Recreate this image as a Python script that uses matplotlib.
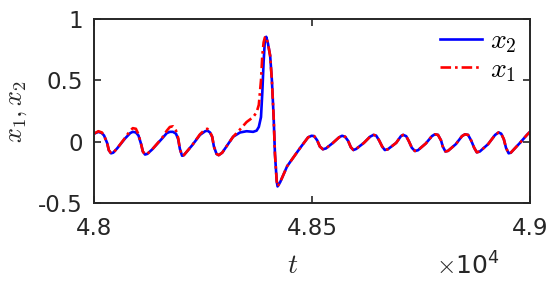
import matplotlib
matplotlib.use('Agg')
import matplotlib.pyplot as plt
from matplotlib.ticker import FuncFormatter

plt.rcParams['mathtext.fontset'] = 'cm'
plt.rcParams['axes.unicode_minus'] = False

# time samples
t = [48000, 48010, 48018, 48023, 48030, 48034, 48039, 48044, 48053, 48071,
     48083, 48089, 48096, 48102, 48108, 48112, 48117, 48122, 48133, 48156,
     48167, 48174, 48181, 48188, 48193, 48197, 48202, 48206, 48225, 48243,
     48255, 48260, 48266, 48271, 48275, 48281, 48286, 48294, 48319, 48335,
     48350, 48365, 48373, 48378, 48383, 48386, 48389, 48392, 48395, 48399,
     48404, 48408, 48412, 48415, 48419, 48421, 48427, 48443, 48473, 48491,
     48499, 48505, 48512, 48518, 48525, 48532, 48548, 48562, 48569, 48576,
     48583, 48589, 48595, 48601, 48619, 48633, 48641, 48647, 48654, 48661,
     48667, 48674, 48693, 48704, 48709, 48716, 48722, 48729, 48736, 48743,
     48761, 48775, 48782, 48789, 48796, 48800, 48806, 48812, 48830, 48844,
     48851, 48858, 48865, 48872, 48878, 48885, 48904, 48920, 48928, 48934,
     48940, 48945, 48951, 48956, 48977, 48993, 49000]

x2 = [0.065, 0.08, 0.07, 0.05, -0.01, -0.07, -0.095, -0.09, -0.055, 0.025,
      0.07, 0.08, 0.075, 0.05, -0.02, -0.08, -0.105, -0.10, -0.065, 0.025,
      0.07, 0.08, 0.08, 0.065, 0.02, -0.06, -0.115, -0.11, -0.03, 0.055,
      0.085, 0.09, 0.075, 0.04, -0.04, -0.10, -0.11, -0.09, 0.04, 0.075,
      0.085, 0.08, 0.09, 0.12, 0.20, 0.40, 0.65, 0.83, 0.855, 0.80,
      0.70, 0.50, 0.20, -0.10, -0.32, -0.365, -0.33, -0.20, -0.05, 0.035,
      0.048, 0.045, 0.01, -0.04, -0.062, -0.055, -0.01, 0.035, 0.048, 0.04,
      0.005, -0.045, -0.068, -0.06, -0.01, 0.04, 0.055, 0.05, 0.01, -0.04,
      -0.068, -0.062, -0.01, 0.045, 0.055, 0.045, 0.005, -0.05, -0.076, -0.07,
      -0.015, 0.045, 0.06, 0.055, 0.01, -0.04, -0.08, -0.075, -0.02, 0.045,
      0.06, 0.055, 0.01, -0.05, -0.087, -0.08, -0.02, 0.055, 0.075, 0.065,
      0.02, -0.05, -0.095, -0.09, -0.01, 0.055, 0.08]

x1 = [0.065, 0.085, 0.075, 0.05, -0.01, -0.07, -0.095, -0.09, -0.055, 0.03,
      0.09, 0.11, 0.105, 0.06, -0.02, -0.08, -0.105, -0.10, -0.065, 0.03,
      0.09, 0.12, 0.125, 0.09, 0.03, -0.06, -0.115, -0.11, -0.03, 0.06,
      0.10, 0.105, 0.08, 0.04, -0.04, -0.10, -0.11, -0.09, 0.04, 0.10,
      0.16, 0.20, 0.24, 0.30, 0.50, 0.70, 0.81, 0.85, 0.855, 0.80,
      0.70, 0.50, 0.20, -0.10, -0.32, -0.365, -0.33, -0.20, -0.05, 0.035,
      0.048, 0.045, 0.01, -0.04, -0.062, -0.055, -0.01, 0.035, 0.048, 0.04,
      0.005, -0.045, -0.068, -0.06, -0.01, 0.04, 0.055, 0.05, 0.01, -0.04,
      -0.068, -0.062, -0.01, 0.045, 0.055, 0.045, 0.005, -0.05, -0.076, -0.07,
      -0.015, 0.045, 0.06, 0.055, 0.01, -0.04, -0.08, -0.075, -0.02, 0.045,
      0.06, 0.055, 0.01, -0.05, -0.087, -0.08, -0.02, 0.055, 0.075, 0.065,
      0.02, -0.05, -0.095, -0.09, -0.01, 0.055, 0.08]

xticks = [48000, 48500, 49000]
yticks = [-0.5, 0, 0.5, 1]

dark = (0.15, 0.15, 0.15)

fig = plt.figure(figsize=(5.57, 2.89), dpi=100)
ax = fig.add_axes([0.1688, 0.2976, 0.7827, 0.6367])

ax.plot(t, x2, color=(0, 0, 1), lw=1.9, label='$x_2$')
ax.plot(t, x1, color=(1, 0, 0), lw=1.9, linestyle=(0, (4, 1.5, 1, 1.5)), label='$x_1$')

ax.set_xlim(48000, 49000)
ax.set_ylim(-0.5, 1)
ax.set_xticks(xticks)
ax.set_yticks(yticks)
ax.xaxis.set_major_formatter(FuncFormatter(lambda v, p: '%g' % (v / 1e4)))
ax.yaxis.set_major_formatter(FuncFormatter(lambda v, p: '%g' % v))

ax.tick_params(direction='in', length=5, width=1.2, colors=dark,
               labelsize=16.5, top=True, right=True)
ax.tick_params(axis='x', pad=10)
ax.tick_params(axis='y', pad=8)
for s in ax.spines.values():
    s.set_color(dark)
    s.set_linewidth(1.4)

ax.set_xlabel('$t$', fontsize=20, color=dark)
ax.xaxis.set_label_coords(0.455, -0.26)
ax.set_ylabel('$x_1, x_2$', fontsize=19, color=dark)
ax.yaxis.set_label_coords(-0.148, 0.5)

fig.text(0.783, 0.05, r'$\times\mathregular{10^{4}}$', fontsize=18, color=dark)

ax.legend(loc='upper right', frameon=False, fontsize=20, handlelength=1.5,
          handletextpad=0.3, labelspacing=0.0, borderaxespad=0.0,
          bbox_to_anchor=(0.995, 1.02))

fig.savefig('out.png', dpi=100)
